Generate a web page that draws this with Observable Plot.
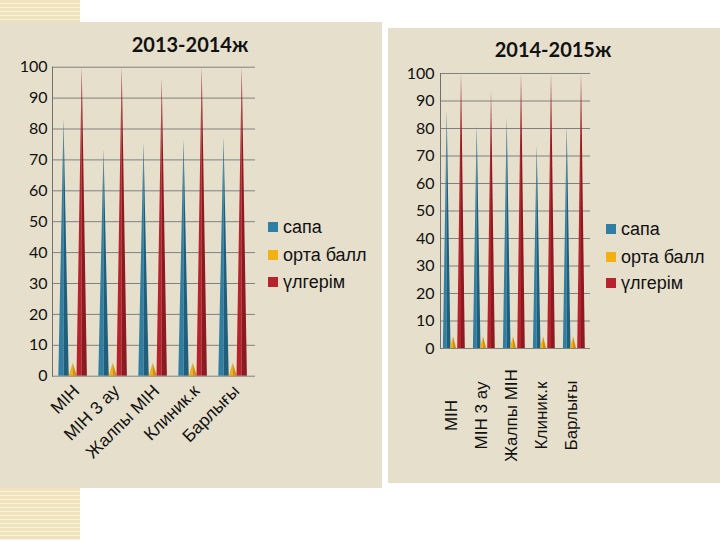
<!DOCTYPE html>
<html><head><meta charset="utf-8">
<script src="https://cdn.jsdelivr.net/npm/d3@7"></script>
<script src="https://cdn.jsdelivr.net/npm/@observablehq/plot@0.6"></script>
<style>
body{margin:0;width:720px;height:540px;position:relative;background:#fff;overflow:hidden;font-family:Lato,sans-serif}
.panel{position:absolute;background:#e6dfcc}
.stripe{position:absolute;background:repeating-linear-gradient(to bottom,#f0e2bb 0px,#f0e2bb 3px,#faf2dc 3px,#faf2dc 4px)}
.title{position:absolute;font-family:Lato,sans-serif;font-weight:bold;font-size:20px;line-height:20px;color:#111;text-align:center;width:200px}
.legend{position:absolute;font-family:"Liberation Sans",Arial,sans-serif;font-size:18px;color:#111}
.legend div{position:absolute;white-space:nowrap;line-height:18px}
.legend span{position:absolute;left:0;width:10px;height:10px}
.chart{position:absolute}
</style>
</head><body>
<div class="stripe" style="left:0;top:0;width:80px;height:22px"></div>
<div class="stripe" style="left:0;top:488px;width:80px;height:52px"></div>
<div class="panel" style="left:0;top:22px;width:382px;height:466px"></div>
<div class="panel" style="left:388px;top:28px;width:332px;height:455px"></div>
<div id="c1" class="chart" style="left:0;top:22px"></div>
<div id="c2" class="chart" style="left:388px;top:28px"></div>
<div id="t1" class="title" style="left:90px;top:34px"></div>
<div id="t2" class="title" style="left:453px;top:39px"></div>
<div id="l1" class="legend" style="left:268px;top:0"></div>
<div id="l2" class="legend" style="left:606px;top:0"></div>
<script>
const categories = ["МІН", "МІН 3 ау", "Жалпы МІН", "Клиник.к", "Барлығы"];
const seriesNames = ["сапа", "орта балл", "үлгерім"];
const seriesColors = ["#2e7fa3", "#f2b111", "#b7232c"];
const seriesShades = ["#1f5f7c", "#d68e0a", "#8a1b22"];
const yTicks = [0, 10, 20, 30, 40, 50, 60, 70, 80, 90, 100];
const titles = ["2013-2014ж", "2014-2015ж"];

const sapa1314 = [83, 73.3, 75.4, 76.5, 77.2];
const orta1314 = [4.2, 4.2, 4.2, 4.2, 4.2];
const ulgerim1314 = [100, 100, 96.2, 100, 100];

const sapa1415 = [86.3, 81.1, 83.9, 73.8, 80.7];
const orta1415 = [4.3, 4.3, 4.3, 4.3, 4.3];
const ulgerim1415 = [100, 93.6, 100, 100, 100];

const NS = "http://www.w3.org/2000/svg";
function coneRender(light, dark) {
  return (index, scales, values, dimensions, context, next) => {
    const g = next(index, scales, values, dimensions, context);
    for (const r of Array.from(g.querySelectorAll("rect"))) {
      const x = +r.getAttribute("x"), y = +r.getAttribute("y");
      const w = +r.getAttribute("width"), h = +r.getAttribute("height");
      const cx = x + w / 2, b = y + h;
      const p1 = document.createElementNS(NS, "path");
      p1.setAttribute("d", `M${x},${b}L${cx},${y}L${cx},${b}Z`);
      p1.setAttribute("fill", light);
      const p2 = document.createElementNS(NS, "path");
      p2.setAttribute("d", `M${cx},${b}L${cx},${y}L${x + w},${b}Z`);
      p2.setAttribute("fill", dark);
      r.replaceWith(p1);
      p1.after(p2);
    }
    return g;
  };
}

function makeChart(cfg) {
  const seriesData = cfg.series.map(arr => categories.map((c, i) => ({category: c, value: arr[i]})));
  const bars = seriesData.map((rows, s) => Plot.barY(rows, {
    x: "category", y: "value", fill: seriesColors[s],
    dx: cfg.dx[s], insetLeft: cfg.inset[s], insetRight: cfg.inset[s],
    render: coneRender(seriesColors[s], seriesShades[s])
  }));
  return Plot.plot({
    width: cfg.width, height: cfg.height,
    marginLeft: cfg.ml, marginRight: cfg.mr, marginTop: cfg.mt, marginBottom: cfg.mb,
    style: {background: "transparent", fontFamily: "Lato, sans-serif", fontSize: cfg.tickFont, color: "#111"},
    x: {domain: categories, padding: 0, axis: null},
    y: {domain: [0, 100], ticks: yTicks, tickSize: 0, tickPadding: cfg.tickPad, label: null, tickFormat: d => String(d)},
    marks: [
      Plot.ruleY(yTicks.slice(1), {stroke: "#808080", strokeWidth: 1}),
      ...bars,
      Plot.ruleY([0], {stroke: "#808080", strokeWidth: 1}),
      Plot.frame({anchor: "left", stroke: "#707070"}),
      Plot.text(categories, {
        x: d => d, frameAnchor: "bottom", rotate: cfg.rotate, textAnchor: cfg.textAnchor,
        lineAnchor: cfg.lineAnchor, dx: cfg.ldx, dy: cfg.ldy,
        fontSize: cfg.labelFont, fontFamily: "Liberation Sans, Arial, sans-serif", fill: "#111"
      })
    ]
  });
}

document.getElementById("c1").append(makeChart({
  series: [sapa1314, orta1314, ulgerim1314],
  width: 262, height: 466, ml: 52, mr: 7, mt: 44.7, mb: 112.3,
  dx: [-10.5, -1.3, 7.7], inset: [14.8, 16, 14.8],
  tickFont: "16px", tickPad: 5,
  rotate: -45, textAnchor: "end", lineAnchor: "middle", ldx: 2, ldy: 12, labelFont: 17.5
}));
document.getElementById("c2").append(makeChart({
  series: [sapa1415, orta1415, ulgerim1415],
  width: 212, height: 455, ml: 52, mr: 10, mt: 45, mb: 135,
  dx: [-8.3, -2, 6], inset: [11.2, 12, 11.2],
  tickFont: "16px", tickPad: 6,
  rotate: -90, textAnchor: "middle", lineAnchor: "bottom", ldx: 1, ldy: 67, labelFont: 17
}));

document.getElementById("t1").textContent = titles[0];
document.getElementById("t2").textContent = titles[1];

function legend(id, tops) {
  const el = document.getElementById(id);
  seriesNames.forEach((name, i) => {
    const row = document.createElement("div");
    row.style.top = (tops[i] - 9) + "px";
    row.style.left = "0px";
    row.style.paddingLeft = "15px";
    const sw = document.createElement("span");
    sw.style.background = seriesColors[i];
    sw.style.top = "4px";
    row.append(sw, document.createTextNode(name));
    el.append(row);
  });
}
legend("l1", [227, 255, 282]);
legend("l2", [229, 257, 283]);
</script>
</body></html>
